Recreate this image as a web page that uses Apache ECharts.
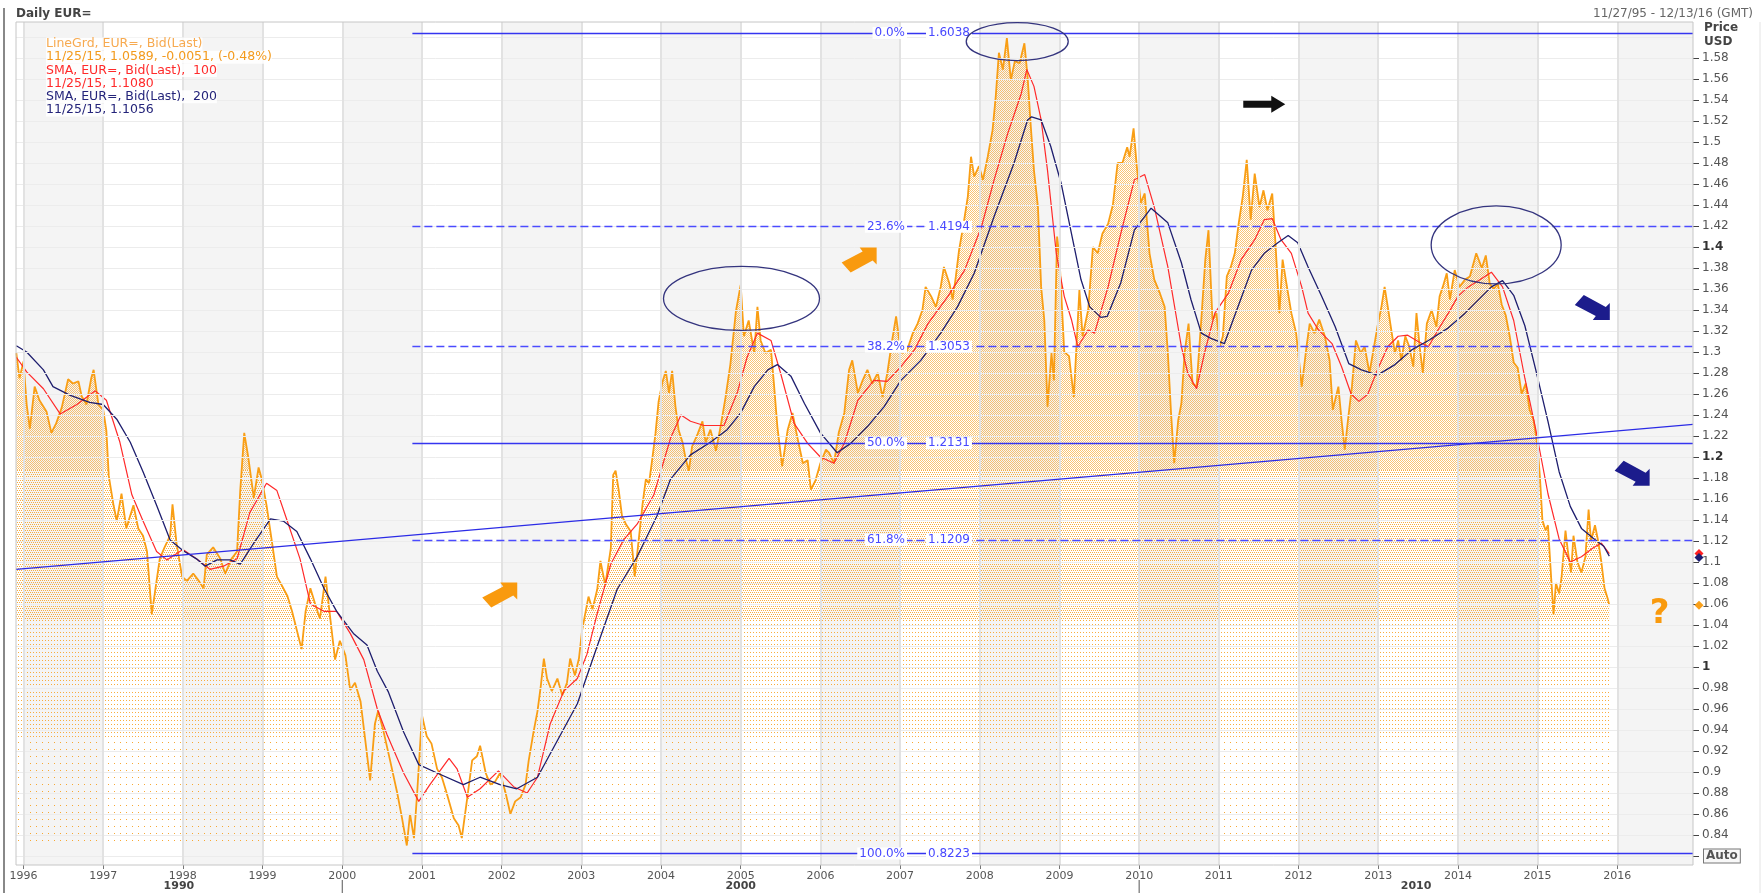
<!DOCTYPE html>
<html lang="en">
<head>
<meta charset="UTF-8">
<title>Daily EUR=</title>
<script src="https://cdn.jsdelivr.net/npm/echarts@6/dist/echarts.min.js"></script>
<style>
    html, body { margin: 0; padding: 0; background: #fff; }
    #chart { width: 1763px; height: 893px; }
</style>
</head>
<body>
<div id="chart"></div>
<script>
    // 价格（年份小数, 收盘价）
    var price = [
        [1995.91,1.299],[1995.95,1.275],[1996.0,1.291],[1996.04,1.250],[1996.08,1.227],[1996.14,1.267],[1996.2,1.254],
        [1996.29,1.243],[1996.35,1.223],[1996.41,1.232],[1996.48,1.247],[1996.56,1.274],[1996.62,1.270],[1996.69,1.272],
        [1996.73,1.258],[1996.79,1.250],[1996.85,1.275],[1996.88,1.283],[1996.94,1.250],[1997.0,1.245],[1997.04,1.225],
        [1997.07,1.182],[1997.13,1.154],[1997.17,1.139],[1997.23,1.165],[1997.29,1.132],[1997.38,1.154],[1997.44,1.132],
        [1997.5,1.125],[1997.55,1.110],[1997.61,1.050],[1997.67,1.082],[1997.71,1.103],[1997.77,1.114],[1997.84,1.125],
        [1997.87,1.155],[1997.92,1.118],[1997.99,1.086],[1998.05,1.082],[1998.13,1.089],[1998.2,1.082],[1998.26,1.075],
        [1998.3,1.107],[1998.38,1.114],[1998.47,1.103],[1998.53,1.089],[1998.61,1.103],[1998.68,1.110],[1998.72,1.168],
        [1998.77,1.223],[1998.82,1.200],[1998.89,1.161],[1998.95,1.190],[1998.99,1.179],[1999.05,1.154],[1999.12,1.118],
        [1999.18,1.086],[1999.24,1.078],[1999.31,1.068],[1999.37,1.053],[1999.43,1.035],[1999.49,1.017],[1999.54,1.053],
        [1999.6,1.075],[1999.66,1.060],[1999.72,1.046],[1999.79,1.086],[1999.85,1.046],[1999.91,1.007],[1999.97,1.025],
        [2000.04,1.011],[2000.1,0.978],[2000.16,0.985],[2000.23,0.967],[2000.31,0.917],[2000.35,0.892],[2000.41,0.946],
        [2000.45,0.958],[2000.52,0.938],[2000.6,0.911],[2000.69,0.880],[2000.75,0.856],[2000.81,0.830],[2000.85,0.860],
        [2000.9,0.837],[2000.94,0.880],[2001.0,0.954],[2001.06,0.934],[2001.12,0.927],[2001.19,0.903],[2001.25,0.895],
        [2001.31,0.880],[2001.4,0.856],[2001.46,0.849],[2001.5,0.837],[2001.57,0.876],[2001.63,0.911],[2001.69,0.915],
        [2001.73,0.925],[2001.8,0.899],[2001.86,0.888],[2001.92,0.891],[2001.98,0.899],[2002.05,0.880],[2002.11,0.860],
        [2002.17,0.872],[2002.24,0.876],[2002.3,0.888],[2002.34,0.911],[2002.4,0.938],[2002.45,0.958],[2002.49,0.981],
        [2002.53,1.008],[2002.57,0.989],[2002.63,0.977],[2002.7,0.989],[2002.76,0.973],[2002.82,0.985],[2002.86,1.008],
        [2002.92,0.992],[2002.97,1.008],[2003.01,1.035],[2003.05,1.051],[2003.09,1.067],[2003.14,1.055],[2003.2,1.074],
        [2003.24,1.101],[2003.3,1.078],[2003.37,1.113],[2003.4,1.183],[2003.43,1.187],[2003.47,1.168],[2003.51,1.144],
        [2003.56,1.136],[2003.62,1.129],[2003.67,1.086],[2003.72,1.121],[2003.77,1.156],[2003.81,1.179],[2003.85,1.175],
        [2003.89,1.198],[2003.93,1.222],[2003.97,1.253],[2004.02,1.272],[2004.06,1.282],[2004.1,1.261],[2004.14,1.282],
        [2004.18,1.249],[2004.22,1.226],[2004.27,1.214],[2004.31,1.198],[2004.35,1.187],[2004.39,1.210],[2004.46,1.222],
        [2004.52,1.234],[2004.56,1.214],[2004.62,1.226],[2004.69,1.206],[2004.75,1.230],[2004.81,1.257],[2004.87,1.288],
        [2004.94,1.339],[2005.0,1.364],[2005.04,1.315],[2005.1,1.330],[2005.17,1.299],[2005.21,1.343],[2005.25,1.311],
        [2005.31,1.299],[2005.38,1.302],[2005.42,1.267],[2005.46,1.229],[2005.52,1.191],[2005.59,1.226],[2005.65,1.242],
        [2005.71,1.219],[2005.78,1.194],[2005.84,1.197],[2005.88,1.169],[2005.94,1.178],[2006.0,1.194],[2006.07,1.207],
        [2006.11,1.204],[2006.17,1.194],[2006.23,1.223],[2006.3,1.242],[2006.36,1.283],[2006.4,1.292],[2006.47,1.261],
        [2006.53,1.273],[2006.59,1.283],[2006.65,1.270],[2006.72,1.280],[2006.78,1.257],[2006.84,1.280],[2006.9,1.311],
        [2006.95,1.334],[2006.99,1.311],[2007.03,1.299],[2007.09,1.302],[2007.16,1.318],[2007.22,1.327],[2007.28,1.340],
        [2007.32,1.362],[2007.39,1.353],[2007.45,1.343],[2007.51,1.362],[2007.55,1.381],[2007.62,1.365],[2007.66,1.350],
        [2007.7,1.372],[2007.74,1.397],[2007.79,1.419],[2007.85,1.448],[2007.89,1.486],[2007.93,1.467],[2007.99,1.477],
        [2008.04,1.464],[2008.1,1.486],[2008.16,1.511],[2008.2,1.543],[2008.24,1.585],[2008.29,1.569],[2008.34,1.599],
        [2008.39,1.559],[2008.44,1.577],[2008.5,1.575],[2008.56,1.594],[2008.6,1.562],[2008.64,1.515],[2008.68,1.473],
        [2008.73,1.438],[2008.77,1.362],[2008.81,1.330],[2008.85,1.248],[2008.9,1.299],[2008.93,1.273],[2008.97,1.410],
        [2009.0,1.390],[2009.06,1.300],[2009.12,1.296],[2009.18,1.257],[2009.25,1.359],[2009.29,1.315],[2009.36,1.340],
        [2009.42,1.400],[2009.48,1.394],[2009.54,1.413],[2009.61,1.422],[2009.67,1.440],[2009.73,1.480],[2009.79,1.480],
        [2009.85,1.495],[2009.88,1.486],[2009.93,1.513],[2009.97,1.477],[2010.02,1.442],[2010.07,1.451],[2010.13,1.394],
        [2010.19,1.369],[2010.26,1.356],[2010.32,1.343],[2010.36,1.299],[2010.4,1.242],[2010.44,1.194],[2010.49,1.235],
        [2010.53,1.251],[2010.57,1.299],[2010.62,1.327],[2010.67,1.270],[2010.72,1.267],[2010.78,1.331],[2010.83,1.388],
        [2010.87,1.416],[2010.92,1.331],[2010.97,1.337],[2011.01,1.305],[2011.05,1.315],[2011.1,1.372],[2011.15,1.381],
        [2011.2,1.394],[2011.25,1.423],[2011.3,1.448],[2011.35,1.483],[2011.4,1.426],[2011.45,1.470],[2011.51,1.438],
        [2011.56,1.454],[2011.61,1.435],[2011.67,1.451],[2011.71,1.404],[2011.76,1.337],[2011.8,1.388],[2011.84,1.369],
        [2011.91,1.337],[2011.97,1.318],[2012.04,1.267],[2012.1,1.305],[2012.14,1.327],[2012.2,1.318],[2012.26,1.331],
        [2012.33,1.315],[2012.39,1.292],[2012.43,1.245],[2012.5,1.267],[2012.54,1.235],[2012.58,1.207],[2012.62,1.235],
        [2012.67,1.267],[2012.72,1.311],[2012.78,1.299],[2012.83,1.305],[2012.89,1.280],[2012.94,1.302],[2012.99,1.324],
        [2013.04,1.343],[2013.08,1.362],[2013.12,1.343],[2013.17,1.318],[2013.21,1.299],[2013.25,1.311],[2013.29,1.292],
        [2013.34,1.315],[2013.39,1.305],[2013.44,1.286],[2013.48,1.337],[2013.52,1.305],[2013.56,1.280],[2013.61,1.327],
        [2013.67,1.340],[2013.73,1.324],[2013.77,1.353],[2013.81,1.362],[2013.86,1.375],[2013.9,1.350],[2013.96,1.378],
        [2014.02,1.362],[2014.09,1.369],[2014.15,1.372],[2014.23,1.394],[2014.3,1.380],[2014.35,1.392],[2014.4,1.365],
        [2014.45,1.360],[2014.5,1.365],[2014.55,1.345],[2014.6,1.335],[2014.65,1.315],[2014.7,1.290],[2014.75,1.285],
        [2014.8,1.260],[2014.85,1.270],[2014.9,1.245],[2014.95,1.235],[2015.0,1.210],[2015.03,1.180],[2015.06,1.140],
        [2015.1,1.130],[2015.13,1.135],[2015.17,1.085],[2015.2,1.050],[2015.23,1.080],[2015.27,1.070],[2015.3,1.085],
        [2015.35,1.130],[2015.38,1.110],[2015.42,1.090],[2015.45,1.125],[2015.5,1.100],[2015.55,1.090],[2015.6,1.105],
        [2015.64,1.150],[2015.67,1.120],[2015.72,1.135],[2015.76,1.120],[2015.8,1.100],[2015.84,1.075],[2015.88,1.065],
        [2015.9,1.0589]
    ];

    // 100 日均线
    var sma100 = [
        [1995.91,1.295],[1996.04,1.281],[1996.25,1.265],[1996.46,1.241],[1996.67,1.250],[1996.9,1.263],[1997.04,1.254],
        [1997.21,1.214],[1997.36,1.164],[1997.5,1.139],[1997.67,1.110],[1997.8,1.102],[1998.0,1.112],[1998.17,1.103],
        [1998.34,1.093],[1998.51,1.096],[1998.68,1.103],[1998.84,1.147],[1999.05,1.175],[1999.18,1.168],[1999.31,1.139],
        [1999.47,1.103],[1999.6,1.060],[1999.77,1.053],[1999.93,1.053],[2000.1,1.032],[2000.27,1.007],[2000.44,0.960],
        [2000.56,0.936],[2000.77,0.899],[2000.96,0.872],[2001.1,0.888],[2001.34,0.913],[2001.44,0.903],[2001.57,0.876],
        [2001.73,0.884],[2001.96,0.901],[2002.15,0.886],[2002.32,0.880],[2002.45,0.895],[2002.61,0.946],[2002.78,0.977],
        [2002.95,0.989],[2003.07,1.012],[2003.2,1.051],[2003.37,1.098],[2003.53,1.121],[2003.7,1.136],[2003.91,1.164],
        [2004.12,1.218],[2004.25,1.240],[2004.37,1.234],[2004.54,1.230],[2004.79,1.230],[2004.96,1.262],[2005.08,1.295],
        [2005.21,1.318],[2005.38,1.311],[2005.5,1.280],[2005.67,1.232],[2005.84,1.213],[2006.0,1.200],[2006.17,1.194],
        [2006.3,1.213],[2006.47,1.254],[2006.67,1.273],[2006.84,1.272],[2007.01,1.286],[2007.18,1.302],[2007.35,1.327],
        [2007.6,1.353],[2007.81,1.378],[2008.02,1.419],[2008.18,1.464],[2008.35,1.508],[2008.52,1.546],[2008.59,1.569],
        [2008.68,1.553],[2008.77,1.521],[2008.85,1.473],[2008.96,1.394],[2009.06,1.353],[2009.15,1.331],[2009.23,1.305],
        [2009.36,1.321],[2009.44,1.318],[2009.61,1.362],[2009.77,1.413],[2009.94,1.464],[2010.07,1.469],[2010.19,1.438],
        [2010.36,1.381],[2010.53,1.305],[2010.61,1.280],[2010.72,1.265],[2010.82,1.299],[2010.95,1.337],[2011.12,1.356],
        [2011.28,1.388],[2011.45,1.407],[2011.57,1.426],[2011.67,1.427],[2011.78,1.407],[2011.91,1.394],[2012.04,1.362],
        [2012.12,1.337],[2012.25,1.321],[2012.42,1.308],[2012.54,1.286],[2012.66,1.260],[2012.76,1.253],[2012.87,1.260],
        [2012.99,1.283],[2013.12,1.305],[2013.25,1.315],[2013.37,1.316],[2013.5,1.310],[2013.63,1.305],[2013.75,1.321],
        [2013.88,1.337],[2014.0,1.353],[2014.13,1.362],[2014.28,1.369],[2014.42,1.376],[2014.56,1.362],[2014.7,1.330],
        [2014.84,1.275],[2014.98,1.225],[2015.13,1.165],[2015.27,1.122],[2015.41,1.100],[2015.55,1.105],[2015.69,1.113],
        [2015.8,1.118],[2015.9,1.108]
    ];

    // 200 日均线
    var sma200 = [
        [1995.91,1.306],[1996.04,1.300],[1996.25,1.283],[1996.37,1.267],[1996.58,1.259],[1996.83,1.252],[1997.0,1.250],
        [1997.17,1.236],[1997.34,1.214],[1997.5,1.186],[1997.67,1.154],[1997.84,1.121],[1998.0,1.111],[1998.17,1.103],
        [1998.28,1.096],[1998.43,1.102],[1998.59,1.102],[1998.72,1.098],[1998.89,1.118],[1999.1,1.141],[1999.26,1.139],
        [1999.43,1.129],[1999.6,1.103],[1999.77,1.075],[1999.93,1.053],[2000.14,1.032],[2000.31,1.021],[2000.44,0.996],
        [2000.58,0.976],[2000.77,0.938],[2000.96,0.907],[2001.19,0.899],[2001.52,0.888],[2001.73,0.895],[2001.98,0.888],
        [2002.19,0.884],[2002.45,0.895],[2002.7,0.930],[2002.95,0.965],[2003.2,1.020],[2003.45,1.074],[2003.7,1.105],
        [2003.95,1.144],[2004.12,1.179],[2004.37,1.202],[2004.62,1.214],[2004.83,1.226],[2005.0,1.242],[2005.17,1.267],
        [2005.34,1.283],[2005.46,1.288],[2005.63,1.277],[2005.8,1.251],[2006.0,1.223],[2006.21,1.204],[2006.38,1.213],
        [2006.59,1.229],[2006.8,1.248],[2007.01,1.273],[2007.26,1.292],[2007.51,1.318],[2007.72,1.343],[2007.93,1.375],
        [2008.18,1.429],[2008.43,1.480],[2008.6,1.521],[2008.65,1.524],[2008.77,1.521],[2008.89,1.496],[2009.02,1.461],
        [2009.15,1.413],[2009.27,1.369],[2009.38,1.343],[2009.52,1.333],[2009.6,1.334],[2009.77,1.366],[2009.94,1.416],
        [2010.15,1.437],[2010.36,1.423],[2010.53,1.385],[2010.65,1.350],[2010.78,1.318],[2010.9,1.313],[2011.07,1.308],
        [2011.24,1.343],[2011.41,1.378],[2011.57,1.394],[2011.74,1.404],[2011.87,1.411],[2011.99,1.404],[2012.12,1.381],
        [2012.29,1.353],[2012.46,1.324],[2012.63,1.289],[2012.79,1.283],[2012.99,1.278],[2013.21,1.288],[2013.42,1.302],
        [2013.63,1.311],[2013.88,1.323],[2014.09,1.337],[2014.3,1.353],[2014.42,1.362],[2014.56,1.368],[2014.7,1.354],
        [2014.84,1.325],[2014.98,1.282],[2015.13,1.234],[2015.27,1.186],[2015.41,1.153],[2015.55,1.132],[2015.69,1.123],
        [2015.83,1.115],[2015.9,1.1056]
    ];

    // 斐波那契回撤位
    var fibPct = ['0.0%', '23.6%', '38.2%', '50.0%', '61.8%', '100.0%'];
    var fibVal = [1.6038, 1.4194, 1.3053, 1.2131, 1.1209, 0.8223];
    var fibDashed = [false, true, true, false, true, false];

    // 趋势线两端
    var trendStart = [1995.906, 1.093];
    var trendEnd = [2016.95, 1.231];

    // 刻度
    var years = [1996, 1997, 1998, 1999, 2000, 2001, 2002, 2003, 2004, 2005, 2006,
                 2007, 2008, 2009, 2010, 2011, 2012, 2013, 2014, 2015, 2016];
    var shadedYears = [1996, 1998, 2000, 2002, 2004, 2006, 2008, 2010, 2012, 2014, 2016];
    var yLabels = [0.84, 0.86, 0.88, 0.9, 0.92, 0.94, 0.96, 0.98, 1, 1.02, 1.04, 1.06, 1.08, 1.1,
                   1.12, 1.14, 1.16, 1.18, 1.2, 1.22, 1.24, 1.26, 1.28, 1.3, 1.32, 1.34, 1.36, 1.38,
                   1.4, 1.42, 1.44, 1.46, 1.48, 1.5, 1.52, 1.54, 1.56, 1.58];
    var yBold = [1, 1.2, 1.4];
    var decades = ['1990', '2000', '2010'];
    var decadeCenters = [1997.95, 2005.0, 2013.475];
    var decadeBreaks = [2000, 2010];

    // 图例文字
    var legendLines = ['LineGrd, EUR=, Bid(Last)', '11/25/15, 1.0589, -0.0051, (-0.48%)',
                       'SMA, EUR=, Bid(Last),  100', '11/25/15, 1.1080',
                       'SMA, EUR=, Bid(Last),  200', '11/25/15, 1.1056'];
    var legendColors = ['#f7aa50', '#f39a1c', '#ff2a2a', '#ff2a2a', '#24247a', '#24247a'];

    // 标注（数据坐标）
    var ellipses = [[2005.01, 1.351, 78, 32], [2008.47, 1.5957, 51, 19], [2014.48, 1.402, 65, 39]];
    var upArrows = [[2001.97, 1.069], [2006.48, 1.388]];
    var downArrows = [[2015.68, 1.342], [2016.18, 1.184]];
    var rightArrow = [2011.57, 1.536];
    var questionPos = [2016.53, 1.05];
    var lastVals = { price: 1.0589, sma100: 1.108, sma200: 1.1056 };

    var X_MIN = 1995.906, X_MAX = 2016.95;
    var Y_MIN = 0.8114, Y_MAX = 1.6143;
    var FIB_START = 2000.88, FIB_LABEL_X = 2007.25;
    var FONT = '"DejaVu Sans", Verdana, sans-serif';

    // 点状填充（按页面高度变化密度）
    function dotPattern() {
        var c = document.createElement('canvas');
        c.width = 84; c.height = 893;
        var g = c.getContext('2d');
        for (var y = 0; y < 842; y++) {
            for (var x = 0; x < 84; x++) {
                var a = 0;
                if (y < 470) { if ((x + y) % 2 === 0) a = 0.62; }
                else if (y < 620) { if (y % 2 === 0 && (x + y / 2) % 2 === 0) a = 0.85; }
                else if (y < 740) { if (y % 4 === 0 && x % 3 === 0) a = 0.85; }
                else { if (y % 7 === 0 && x % 6 === 0) a = 0.9; }
                if (a) { g.fillStyle = 'rgba(247,160,30,' + a + ')'; g.fillRect(x, y, 1, 1); }
            }
        }
        return c;
    }

    function fmtY(v) {
        var s = String(+v.toFixed(2));
        for (var i = 0; i < yBold.length; i++) {
            if (Math.abs(v - yBold[i]) < 1e-6) return '{b|' + s + '}';
        }
        return s;
    }

    var myChart = echarts.init(document.getElementById('chart'));

    myChart.setOption({
        animation: false,
        backgroundColor: '#fff',
        grid: { left: 16, right: 70, top: 22, bottom: 28, show: true, backgroundColor: '#fff', borderWidth: 0 },
        xAxis: {
            type: 'value', min: X_MIN, max: X_MAX,
            axisLine: { show: false },
            splitLine: { show: false },
            axisTick: { show: true, length: 4, customValues: years, lineStyle: { color: '#777' } },
            axisLabel: {
                customValues: years, margin: 6, color: '#555', fontSize: 11, fontFamily: FONT,
                formatter: function (v) { return String(Math.round(v)); }
            }
        },
        yAxis: {
            type: 'value', position: 'right', min: Y_MIN, max: Y_MAX,
            axisLine: { show: false },
            splitLine: { show: false },
            axisTick: { show: true, length: 6, customValues: [0.82].concat(yLabels), lineStyle: { color: '#444' } },
            axisLabel: {
                customValues: yLabels, margin: 9, color: '#555', fontSize: 12, fontFamily: FONT,
                formatter: fmtY,
                rich: { b: { fontWeight: 'bold', color: '#333', fontSize: 12, fontFamily: FONT } }
            }
        },
        series: [
            {
                name: 'bands', type: 'line', data: [], z: 0, silent: true,
                markArea: {
                    silent: true,
                    itemStyle: { color: '#f4f4f4' },
                    data: shadedYears.map(function (y) {
                        return [{ xAxis: y }, { xAxis: Math.min(y + 1, X_MAX) }];
                    })
                }
            },
            {
                name: 'grid', type: 'line', data: [], z: 1, silent: true,
                markLine: {
                    silent: true, symbol: 'none', label: { show: false },
                    lineStyle: { color: '#ececec', width: 1, type: 'solid' },
                    data: yLabels.concat([0.82, 1.6]).map(function (v) { return { yAxis: v }; })
                        .concat(years.map(function (y) {
                            return { xAxis: y, lineStyle: { color: '#e2e2e2', width: 2, type: 'solid' } };
                        }))
                }
            },
            {
                name: 'LineGrd', type: 'line', data: price, z: 2,
                showSymbol: false, symbol: 'none', sampling: 'none',
                lineStyle: { color: '#f99e14', width: 1.8 },
                areaStyle: { color: { image: dotPattern(), repeat: 'repeat' }, origin: 'start', opacity: 1 }
            },
            {
                name: 'SMA 100', type: 'line', data: sma100, z: 3,
                showSymbol: false, symbol: 'none',
                lineStyle: { color: '#ff2a2a', width: 1.2 }
            },
            {
                name: 'SMA 200', type: 'line', data: sma200, z: 4,
                showSymbol: false, symbol: 'none',
                lineStyle: { color: '#1e1e6e', width: 1.3 }
            },
            {
                name: 'fib', type: 'line', data: [], z: 5, silent: true,
                markLine: {
                    silent: true, symbol: 'none', label: { show: false },
                    data: fibVal.map(function (v, i) {
                        return [
                            {
                                coord: [FIB_START, v],
                                lineStyle: fibDashed[i]
                                    ? { color: '#4b4bff', width: 1.3, type: [8, 4] }
                                    : { color: '#3535f0', width: 1.4, type: 'solid' }
                            },
                            { coord: [X_MAX, v] }
                        ];
                    }).concat([[
                        { coord: trendStart, lineStyle: { color: '#2b2be6', width: 1.2, type: 'solid' } },
                        { coord: trendEnd }
                    ]])
                }
            }
        ]
    });

    function px(x, y) { return myChart.convertToPixel({ gridIndex: 0 }, [x, y]); }

    function poly(pts, x, y, color) {
        return { type: 'polygon', x: x, y: y, z: 60, silent: true, shape: { points: pts }, style: { fill: color } };
    }

    function diamond(p, color) {
        return poly([[0, -4.5], [4.5, 0], [0, 4.5], [-4.5, 0]], p[0], p[1], color);
    }

    var g = [];

    // 标题
    g.push({ type: 'text', x: 16, y: 14, z: 60, style: { text: 'Daily EUR=', fill: '#444', font: 'bold 12px ' + FONT, textVerticalAlign: 'middle' } });
    g.push({ type: 'text', x: 1753, y: 14, z: 60, style: { text: '11/27/95 - 12/13/16 (GMT)', fill: '#666', font: '12px ' + FONT, textAlign: 'right', textVerticalAlign: 'middle' } });

    // 图例
    legendLines.forEach(function (t, i) {
        g.push({
            type: 'text', x: 46, y: 44 + i * 13.2, z: 60,
            style: { text: t, fill: legendColors[i], font: '12.5px ' + FONT, textVerticalAlign: 'middle', backgroundColor: 'rgba(255,255,255,0.85)' }
        });
    });

    // 右侧坐标标题
    g.push({ type: 'text', x: 1704, y: 28, z: 60, style: { text: 'Price', fill: '#444', font: 'bold 12px ' + FONT, textVerticalAlign: 'middle' } });
    g.push({ type: 'text', x: 1704, y: 42, z: 60, style: { text: 'USD', fill: '#444', font: 'bold 12px ' + FONT, textVerticalAlign: 'middle' } });
    var pAuto = px(X_MAX, 0.82);
    g.push({
        type: 'text', x: 1704, y: pAuto[1], z: 60,
        style: { text: 'Auto', fill: '#555', font: 'bold 12px ' + FONT, textVerticalAlign: 'middle', borderColor: '#777', borderWidth: 1, padding: [1, 2, 0, 2], backgroundColor: '#f8f8f8' }
    });

    // 年代标签
    decades.forEach(function (d, i) {
        var p = px(decadeCenters[i], Y_MIN);
        g.push({ type: 'text', x: p[0], y: 886, z: 60, style: { text: d, fill: '#444', font: 'bold 11px ' + FONT, textAlign: 'center', textVerticalAlign: 'middle' } });
    });
    decadeBreaks.forEach(function (y) {
        var p = px(y, Y_MIN);
        g.push({ type: 'line', z: 60, shape: { x1: p[0], y1: 880, x2: p[0], y2: 893 }, style: { stroke: '#555', lineWidth: 1 } });
    });

    // 斐波那契标签
    fibVal.forEach(function (v, i) {
        var p = px(FIB_LABEL_X, v);
        g.push({ type: 'text', x: p[0] - 13, y: p[1], z: 60, style: { text: fibPct[i], fill: '#4848ff', font: '12px ' + FONT, textAlign: 'right', textVerticalAlign: 'middle', backgroundColor: '#fff', padding: [0, 2] } });
        g.push({ type: 'text', x: p[0] + 6, y: p[1], z: 60, style: { text: v.toFixed(4), fill: '#4848ff', font: '12px ' + FONT, textAlign: 'left', textVerticalAlign: 'middle', backgroundColor: '#fff', padding: [0, 2] } });
    });

    // 椭圆
    ellipses.forEach(function (e) {
        var p = px(e[0], e[1]);
        g.push({ type: 'ellipse', z: 60, silent: true, shape: { cx: p[0], cy: p[1], rx: e[2], ry: e[3] }, style: { fill: 'none', stroke: '#34347e', lineWidth: 1.3 } });
    });

    // 箭头
    var upShape = [[-17, 3], [4, -8], [1, -12], [18, -12], [18, 5], [14, 1], [-8, 13]];
    var downShape = upShape.map(function (q) { return [q[0], -q[1]]; });
    var rightShape = [[-21, -3.5], [7, -3.5], [7, -8.5], [21, 0], [7, 8.5], [7, 3.5], [-21, 3.5]];
    upArrows.forEach(function (a) { var p = px(a[0], a[1]); g.push(poly(upShape, p[0], p[1], '#f99a0e')); });
    downArrows.forEach(function (a) { var p = px(a[0], a[1]); g.push(poly(downShape, p[0], p[1], '#1c1c8c')); });
    var pr = px(rightArrow[0], rightArrow[1]);
    g.push(poly(rightShape, pr[0], pr[1], '#111'));
    var pq = px(questionPos[0], questionPos[1]);
    g.push({ type: 'text', x: pq[0], y: pq[1], z: 60, style: { text: '?', fill: '#f99a0e', font: 'bold 34px ' + FONT, textAlign: 'center', textVerticalAlign: 'middle' } });

    // 右轴上的最新值标记
    var pd = px(X_MAX, lastVals.sma100);
    g.push(diamond([pd[0] + 6, pd[1]], '#ff2020'));
    pd = px(X_MAX, lastVals.sma200);
    g.push(diamond([pd[0] + 6, pd[1] + 1.5], '#1c1c70'));
    pd = px(X_MAX, lastVals.price);
    g.push(diamond([pd[0] + 6, pd[1]], '#f9a01a'));

    // 边框
    var tl = px(X_MIN, Y_MAX), br = px(X_MAX, Y_MIN);
    g.push({ type: 'rect', z: 55, silent: true, shape: { x: tl[0], y: tl[1], width: br[0] - tl[0], height: br[1] - tl[1] }, style: { fill: 'none', stroke: '#c6c6c6', lineWidth: 1 } });
    g.push({ type: 'line', z: 55, shape: { x1: 4, y1: 8, x2: 4, y2: 893 }, style: { stroke: '#888', lineWidth: 2 } });
    g.push({ type: 'line', z: 55, shape: { x1: 1760, y1: 22, x2: 1760, y2: 893 }, style: { stroke: '#e4e4e4', lineWidth: 1 } });

    myChart.setOption({ graphic: g });
</script>
</body>
</html>
